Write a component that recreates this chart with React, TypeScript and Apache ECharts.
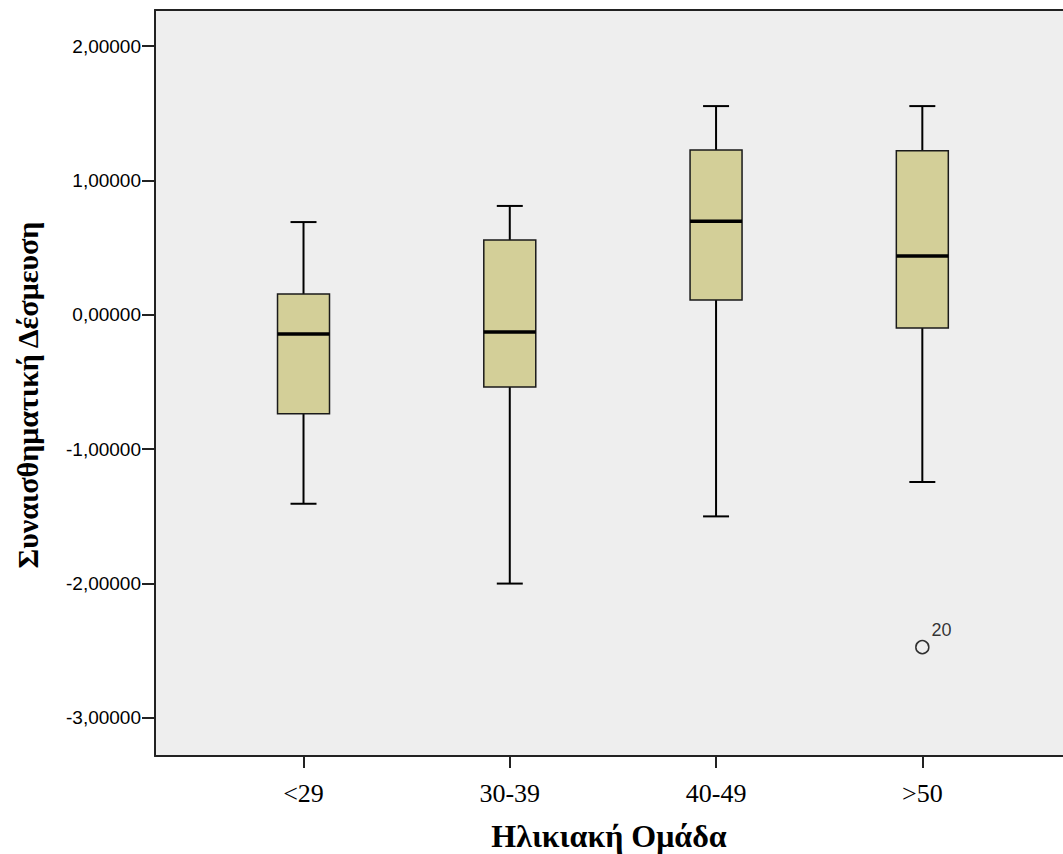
import React, { useEffect, useRef } from 'react';
import * as echarts from 'echarts';

// Age groups (x categories)
const categories = ['<29', '30-39', '40-49', '>50'];
// Box plot statistics per group
const whiskerLow = [-1.406, -2.0, -1.5, -1.244];
const quartile1 = [-0.736, -0.537, 0.11, -0.098];
const medians = [-0.143, -0.128, 0.697, 0.438];
const quartile3 = [0.155, 0.556, 1.226, 1.22];
const whiskerHigh = [0.69, 0.81, 1.553, 1.553];
// Outliers
const outlierGroups = [3];
const outlierValues = [-2.473];
const outlierIds = ['20'];
// Y tick values
const yTicks = [-3, -2, -1, 0, 1, 2];
const xTicks = [0, 1, 2, 3];

const SERIF = '"Liberation Serif", "Times New Roman", serif';
const SANS = '"Liberation Sans", Arial, sans-serif';

export default function App() {
  const ref = useRef<HTMLDivElement>(null);

  useEffect(() => {
    if (!ref.current) return;
    const chart = echarts.init(ref.current, null, { renderer: 'svg' });

    const boxData = categories.map((_, i) => [
      i,
      whiskerLow[i],
      quartile1[i],
      medians[i],
      quartile3[i],
      whiskerHigh[i],
    ]);
    const outlierData = outlierGroups.map((g, i) => ({
      value: [g, outlierValues[i]],
      name: outlierIds[i],
    }));

    const BOX_W = 0.252;
    const CAP_W = 0.126;
    const X_MIN = -0.72;
    const X_MAX = 3.682;
    const frameLine = { color: '#222222', width: 2 };

    const option: any = {
      animation: false,
      backgroundColor: '#ffffff',
      grid: {
        left: 155,
        right: 0,
        top: 10,
        bottom: 98,
        show: true,
        backgroundColor: '#eeeeee',
        borderWidth: 0,
        containLabel: false,
        outerBoundsMode: 'none',
      },
      xAxis: [
        {
          type: 'value',
          min: X_MIN,
          max: X_MAX,
          axisLine: { show: true, onZero: false, lineStyle: frameLine },
          axisTick: {
            show: true,
            length: 12,
            customValues: xTicks,
            lineStyle: { color: '#222222', width: 2 },
          },
          axisLabel: {
            customValues: xTicks,
            formatter: (v: number) => categories[Math.round(v)] ?? '',
            margin: 24,
            fontFamily: SERIF,
            fontSize: 26,
            color: '#000000',
          },
          splitLine: { show: false },
          name: 'Ηλικιακή Ομάδα',
          nameLocation: 'middle',
          nameGap: 64,
          nameTextStyle: {
            fontFamily: SERIF,
            fontWeight: 'bold',
            fontSize: 32,
            color: '#000000',
          },
        },
        {
          type: 'value',
          position: 'top',
          min: X_MIN,
          max: X_MAX,
          axisLine: { show: true, onZero: false, lineStyle: frameLine },
          axisTick: { show: false },
          axisLabel: { show: false },
          splitLine: { show: false },
        },
      ],
      yAxis: {
        type: 'value',
        min: -3.283,
        max: 2.268,
        axisLine: { show: true, onZero: false, lineStyle: frameLine },
        axisTick: {
          show: true,
          length: 13,
          customValues: yTicks,
          lineStyle: { color: '#222222', width: 2 },
        },
        axisLabel: {
          customValues: yTicks,
          formatter: (v: number) => v.toFixed(5).replace('.', ','),
          margin: 14,
          fontFamily: SANS,
          fontSize: 19,
          color: '#000000',
        },
        splitLine: { show: false },
        name: 'Συναισθηματική Δέσμευση',
        nameLocation: 'middle',
        nameGap: 113,
        nameTextStyle: {
          fontFamily: SERIF,
          fontWeight: 'bold',
          fontSize: 30,
          color: '#000000',
          padding: [0, 24, 0, 0],
        },
      },
      series: [
        {
          type: 'custom',
          xAxisIndex: 0,
          yAxisIndex: 0,
          data: boxData,
          encode: { x: 0, y: [1, 2, 3, 4, 5] },
          renderItem: (params: any, api: any) => {
            const x = api.value(0);
            const pLow = api.coord([x, api.value(1)]);
            const pQ1 = api.coord([x, api.value(2)]);
            const pMed = api.coord([x, api.value(3)]);
            const pQ3 = api.coord([x, api.value(4)]);
            const pHigh = api.coord([x, api.value(5)]);
            const halfBox = api.size([BOX_W, 0])[0] / 2;
            const halfCap = api.size([CAP_W, 0])[0] / 2;
            const cx = pMed[0];
            const line = (x1: number, y1: number, x2: number, y2: number, w: number) => ({
              type: 'line',
              shape: { x1, y1, x2, y2 },
              style: { stroke: '#000000', lineWidth: w },
            });
            return {
              type: 'group',
              children: [
                line(cx, pHigh[1], cx, pQ3[1], 2),
                line(cx, pLow[1], cx, pQ1[1], 2),
                line(cx - halfCap, pHigh[1], cx + halfCap, pHigh[1], 2),
                line(cx - halfCap, pLow[1], cx + halfCap, pLow[1], 2),
                {
                  type: 'rect',
                  shape: {
                    x: cx - halfBox,
                    y: pQ3[1],
                    width: halfBox * 2,
                    height: pQ1[1] - pQ3[1],
                  },
                  style: { fill: '#d3cf98', stroke: '#1a1a1a', lineWidth: 1.5 },
                },
                line(cx - halfBox, pMed[1], cx + halfBox, pMed[1], 3.5),
              ],
            };
          },
          z: 2,
        },
        {
          type: 'scatter',
          xAxisIndex: 0,
          yAxisIndex: 0,
          data: outlierData,
          symbol: 'circle',
          symbolSize: 13,
          itemStyle: {
            color: 'rgba(0,0,0,0)',
            borderColor: '#000000',
            borderWidth: 1.5,
          },
          label: {
            show: true,
            formatter: (p: any) => p.name,
            position: 'right',
            distance: 2,
            offset: [0, -17],
            fontFamily: SANS,
            fontSize: 18,
            color: '#000000',
          },
          z: 3,
        },
      ],
    };

    chart.setOption(option);
    return () => {
      chart.dispose();
    };
  }, []);

  return (
    <div
      ref={ref}
      style={{ position: 'absolute', left: 0, top: 0, width: 1063, height: 854 }}
    />
  );
}
